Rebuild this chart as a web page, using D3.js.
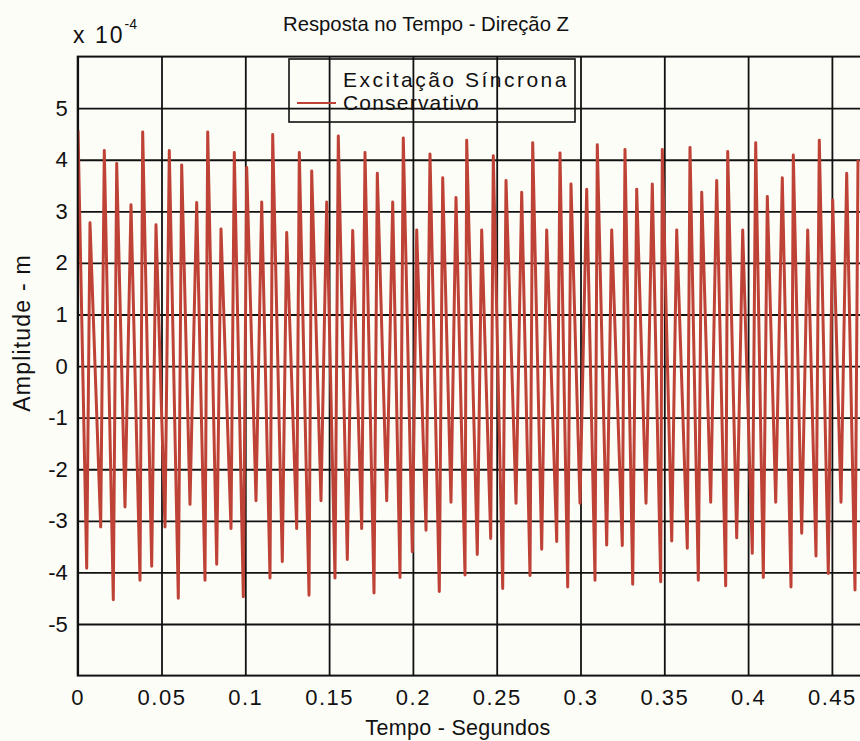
<!DOCTYPE html>
<html>
<head>
<meta charset="utf-8">
<script src="https://cdn.jsdelivr.net/npm/d3@7"></script>
<style>
  body { margin: 0; background: #fdfdf8; }
  svg { display: block; }
  text { font-family: "Liberation Sans", Arial, sans-serif; fill: #111; }
</style>
</head>
<body>
<div class="chart"></div>
<script>
// Peaks and troughs (time in s, amplitude in 1e-4 m)
const peakTime = [0.0002, 0.00734, 0.01587, 0.02327, 0.0318, 0.03878, 0.04672, 0.05465, 0.06205, 0.0710,
  0.07757, 0.0855, 0.09344, 0.10084, 0.10979, 0.11635, 0.1247, 0.13222, 0.13962, 0.14857,
  0.15549, 0.16408, 0.17142, 0.17876, 0.18795, 0.19427, 0.20227, 0.2102, 0.21778, 0.22572,
  0.2321, 0.24105, 0.24797, 0.25555, 0.26492, 0.27148, 0.27983, 0.28777, 0.29433, 0.3037,
  0.31002, 0.31862, 0.32655, 0.33353, 0.34284, 0.34881, 0.3574, 0.36533, 0.37232, 0.38126,
  0.38783, 0.39678, 0.40453, 0.41146, 0.4204, 0.42697, 0.43556, 0.44248, 0.45048, 0.45883, 0.46557];
const peakAmp = [4.57, 2.78, 4.18, 3.93, 3.13, 4.54, 2.74, 4.18, 3.90, 3.17,
  4.54, 2.66, 4.14, 3.85, 3.18, 4.49, 2.59, 4.14, 3.78, 3.18,
  4.46, 2.63, 4.14, 3.74, 3.18, 4.42, 2.64, 4.11, 3.65, 3.27,
  4.38, 2.64, 4.08, 3.60, 3.37, 4.33, 2.64, 4.13, 3.53, 3.43,
  4.29, 2.64, 4.20, 3.43, 3.53, 4.20, 2.64, 4.24, 3.37, 3.60,
  4.16, 2.64, 4.33, 3.29, 3.65, 4.09, 2.64, 4.38, 3.22, 3.74, 4.0];
const troughTime = [0.00537, 0.01372, 0.02124, 0.02822, 0.03717, 0.04415, 0.05209, 0.06002, 0.0670, 0.07595,
  0.08294, 0.09147, 0.09881, 0.10638, 0.11474, 0.12208, 0.13067, 0.13801, 0.14517, 0.15352,
  0.16086, 0.16945, 0.17679, 0.18437, 0.1923, 0.19964, 0.20782, 0.21575, 0.22273, 0.23109,
  0.23842, 0.24642, 0.25358, 0.26152, 0.26987, 0.27685, 0.2858, 0.29236, 0.2997, 0.30865,
  0.31563, 0.32494, 0.33115, 0.33908, 0.34785, 0.35442, 0.36372, 0.37029, 0.37768, 0.38663,
  0.3932, 0.4025, 0.40907, 0.41647, 0.4256, 0.43198, 0.44051, 0.44785, 0.45543, 0.46378];
const troughAmp = [-3.92, -3.12, -4.53, -2.73, -4.15, -3.88, -3.12, -4.50, -2.68, -4.15,
  -3.84, -3.15, -4.47, -2.61, -4.11, -3.79, -3.15, -4.44, -2.61, -4.11,
  -3.75, -3.15, -4.40, -2.61, -4.10, -3.60, -3.18, -4.37, -2.64, -4.05,
  -3.65, -3.34, -4.31, -2.66, -4.06, -3.55, -3.40, -4.28, -2.66, -4.15,
  -3.47, -3.48, -4.23, -2.66, -4.18, -3.39, -3.53, -4.15, -2.64, -4.26,
  -3.33, -3.63, -4.10, -2.64, -4.28, -3.24, -3.68, -4.02, -2.64, -4.34];

const xTicks = [0, 0.05, 0.1, 0.15, 0.2, 0.25, 0.3, 0.35, 0.4, 0.45, 0.5];
const yTicks = [-5, -4, -3, -2, -1, 0, 1, 2, 3, 4, 5];
const legendLabels = ["Excitação Síncrona", "Conservativo"];

// Canvas
let W = 860, H = 741;
let m_left = 77.7, m_top = 56.6;
let plot_w = 838, plot_h = 619;
let lineColor = "#be4236";

let svg = d3.select("div.chart").append("svg")
    .attr("width", W)
    .attr("height", H);

let x = d3.scaleLinear().domain([0, 0.5]).range([m_left, m_left + plot_w]);
let y = d3.scaleLinear().domain([-6, 6]).range([m_top + plot_h, m_top]);

// Grid + tick labels
let gx = svg.append("g")
    .attr("transform", "translate(0," + (m_top + plot_h) + ")")
    .call(d3.axisBottom(x).tickValues(xTicks).tickSize(-plot_h).tickPadding(14)
      .tickFormat(d => d === 0.5 ? "" : String(d)));
gx.select(".domain").remove();
gx.selectAll("line").attr("stroke", "#111").attr("stroke-width", 1.8);
gx.selectAll("text").style("font-size", "22px").style("letter-spacing", "1.5px").attr("fill", "#111");

let gy = svg.append("g")
    .attr("transform", "translate(" + m_left + ",0)")
    .call(d3.axisLeft(y).tickValues(yTicks).tickSize(-plot_w).tickPadding(10)
      .tickFormat(d => String(d)));
gy.select(".domain").remove();
gy.selectAll("line").attr("stroke", "#111").attr("stroke-width", 1.8);
gy.selectAll("text").style("font-size", "22px").attr("fill", "#111");

// Signal
let pts = peakTime.map((t, i) => [t, peakAmp[i]])
  .concat(troughTime.map((t, i) => [t, troughAmp[i]]))
  .sort((a, b) => a[0] - b[0]);

svg.append("clipPath").attr("id", "clip")
  .append("rect").attr("x", m_left).attr("y", m_top).attr("width", plot_w).attr("height", plot_h);

svg.append("path")
    .datum(pts)
    .attr("clip-path", "url(#clip)")
    .attr("fill", "none")
    .attr("stroke", lineColor)
    .attr("stroke-width", 3)
    .attr("stroke-linejoin", "round")
    .attr("d", d3.line().x(d => x(d[0])).y(d => y(d[1])));

// Frame
svg.append("rect")
    .attr("x", m_left).attr("y", m_top)
    .attr("width", plot_w).attr("height", plot_h)
    .attr("fill", "none").attr("stroke", "#111").attr("stroke-width", 2);

// Legend
svg.append("rect")
    .attr("x", 289).attr("y", 59).attr("width", 286).attr("height", 63)
    .attr("fill", "none").attr("stroke", "#111").attr("stroke-width", 1.6);
svg.append("line")
    .attr("x1", 297).attr("x2", 336).attr("y1", 103).attr("y2", 103)
    .attr("stroke", lineColor).attr("stroke-width", 2);
svg.append("text").attr("x", 343).attr("y", 87)
    .style("font-size", "21px").style("letter-spacing", "2.5px").text(legendLabels[0]);
svg.append("text").attr("x", 343).attr("y", 110)
    .style("font-size", "21px").style("letter-spacing", "1.2px").text(legendLabels[1]);

// Titles
svg.append("text").attr("x", 283).attr("y", 31)
    .style("font-size", "20.3px").text("Resposta no Tempo - Direção Z");
svg.append("text").attr("x", 458).attr("y", 735).attr("text-anchor", "middle")
    .style("font-size", "21.5px").style("letter-spacing", "0.3px").text("Tempo - Segundos");
svg.append("text")
    .attr("transform", "translate(30,333) rotate(-90)")
    .attr("text-anchor", "middle")
    .style("font-size", "23px").style("letter-spacing", "1.2px").text("Amplitude - m");

// Exponent
let expo = svg.append("text").attr("x", 73).attr("y", 43);
expo.append("tspan").style("font-size", "23px").style("letter-spacing", "2px").text("x 10");
expo.append("tspan").attr("dy", -14).style("font-size", "14px").text("-4");
</script>
</body>
</html>
